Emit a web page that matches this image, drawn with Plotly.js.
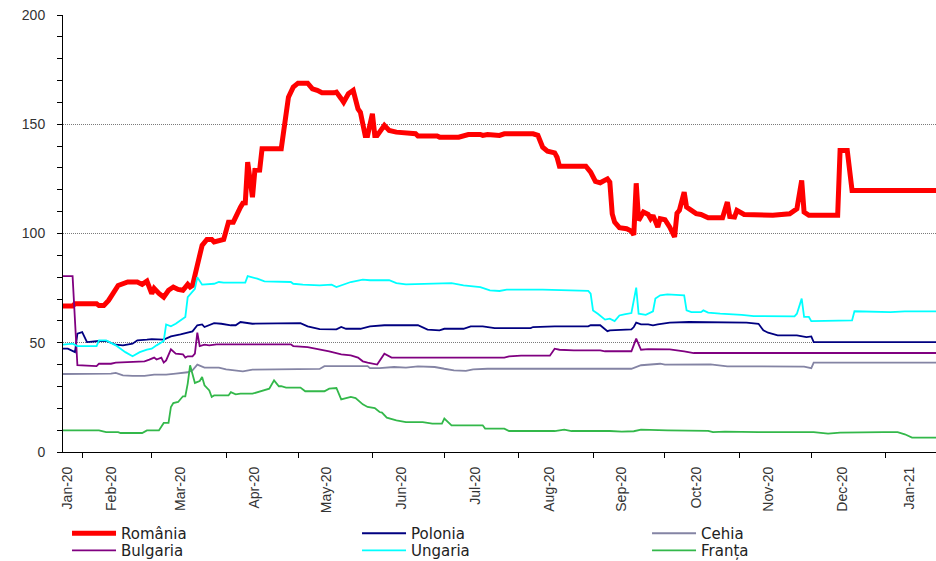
<!DOCTYPE html>
<html>
<head>
<meta charset="utf-8">
<script src="https://cdn.plot.ly/plotly-3.0.1.min.js"></script>
<style>html,body{margin:0;padding:0;background:#fff;}#chart{width:936px;height:561px;}</style>
</head>
<body>
<div id="chart"></div>
<script>
// ---- Data ----
const seriesNames = ['România', 'Polonia', 'Cehia', 'Bulgaria', 'Ungaria', 'Franța'];

const romaniaDates = ['2020-01-24','2020-01-28','2020-01-29','2020-02-07','2020-02-08','2020-02-10','2020-02-12','2020-02-16','2020-02-20','2020-02-24','2020-02-26','2020-02-28','2020-03-01','2020-03-02','2020-03-04','2020-03-06','2020-03-08','2020-03-10','2020-03-12','2020-03-14','2020-03-16','2020-03-17','2020-03-18','2020-03-20','2020-03-22','2020-03-24','2020-03-26','2020-03-27','2020-03-31','2020-04-02','2020-04-04','2020-04-07','2020-04-08','2020-04-09','2020-04-10','2020-04-12','2020-04-13','2020-04-15','2020-04-16','2020-04-24','2020-04-25','2020-04-27','2020-04-29','2020-05-01','2020-05-05','2020-05-07','2020-05-09','2020-05-11','2020-05-16','2020-05-17','2020-05-19','2020-05-20','2020-05-22','2020-05-24','2020-05-26','2020-05-27','2020-05-29','2020-05-30','2020-06-01','2020-06-02','2020-06-03','2020-06-06','2020-06-08','2020-06-11','2020-06-19','2020-06-20','2020-06-28','2020-06-29','2020-07-07','2020-07-11','2020-07-16','2020-07-17','2020-07-19','2020-07-24','2020-07-26','2020-08-07','2020-08-09','2020-08-11','2020-08-13','2020-08-16','2020-08-17','2020-08-18','2020-08-29','2020-08-31','2020-09-02','2020-09-04','2020-09-07','2020-09-08','2020-09-09','2020-09-10','2020-09-12','2020-09-15','2020-09-17','2020-09-18','2020-09-19','2020-09-20','2020-09-22','2020-09-24','2020-09-25','2020-09-26','2020-09-28','2020-09-29','2020-10-01','2020-10-03','2020-10-05','2020-10-06','2020-10-07','2020-10-09','2020-10-10','2020-10-12','2020-10-14','2020-10-16','2020-10-19','2020-10-25','2020-10-27','2020-10-28','2020-10-30','2020-10-31','2020-11-03','2020-11-15','2020-11-19','2020-11-22','2020-11-25','2020-11-27','2020-11-28','2020-11-30','2020-12-12','2020-12-13','2020-12-16','2020-12-18','2021-01-22'];
const romaniaValues = [66.8,66.8,67.9,67.9,67.0,67.0,69.4,76.2,77.8,77.8,76.7,78.2,72.5,74.9,72.6,70.9,74.0,75.5,74.4,74.0,76.7,75.5,76.2,84.6,94.6,97.3,97.3,96.1,97.3,105.2,105.2,112.0,113.9,114.0,132.7,116.6,128.9,129.0,138.8,138.8,145.7,162.4,167.0,168.8,168.8,166.2,165.5,164.4,164.4,164.7,161.7,160.1,164.0,165.5,157.0,155.5,144.9,144.9,154.8,144.9,144.9,149.5,147.2,146.4,145.7,144.6,144.6,144.1,144.1,145.3,145.3,144.9,145.3,144.9,145.6,145.6,144.9,139.5,137.7,136.9,134.9,130.8,130.8,128.1,123.8,123.2,125.0,123.5,109.0,105.2,102.7,102.2,101.1,99.4,123.0,106.0,109.8,108.7,106.8,108.3,102.9,106.8,106.3,102.9,98.4,109.3,110.6,118.9,112.1,110.9,109.1,108.7,107.2,107.2,114.4,107.8,107.5,110.6,108.7,108.3,108.7,109.0,111.3,124.3,109.8,108.3,108.3,138.0,138.0,119.7,119.7];

const poloniaDates = ['2020-01-24','2020-01-26','2020-01-29','2020-01-30','2020-02-01','2020-02-03','2020-02-08','2020-02-11','2020-02-15','2020-02-18','2020-02-22','2020-02-24','2020-02-28','2020-03-01','2020-03-06','2020-03-09','2020-03-13','2020-03-17','2020-03-18','2020-03-20','2020-03-22','2020-03-23','2020-03-27','2020-03-30','2020-04-03','2020-04-05','2020-04-07','2020-04-12','2020-04-18','2020-04-25','2020-05-02','2020-05-05','2020-05-10','2020-05-17','2020-05-19','2020-05-21','2020-05-27','2020-05-31','2020-06-06','2020-06-20','2020-06-24','2020-06-29','2020-07-01','2020-07-09','2020-07-12','2020-07-17','2020-07-22','2020-08-06','2020-08-07','2020-08-16','2020-08-30','2020-08-31','2020-09-04','2020-09-07','2020-09-08','2020-09-17','2020-09-18','2020-09-19','2020-09-21','2020-09-24','2020-09-26','2020-09-28','2020-09-30','2020-10-03','2020-10-11','2020-11-04','2020-11-09','2020-11-11','2020-11-13','2020-11-17','2020-11-25','2020-11-27','2020-11-29','2020-12-01','2020-12-02','2021-01-22'];
const poloniaValues = [47.3,47.3,45.7,54.2,54.9,50.3,50.8,50.8,49.1,48.8,49.6,51.1,51.4,51.7,51.4,52.9,53.8,55.2,55.2,58.0,58.4,57.2,59.0,58.7,58.0,58.0,59.5,58.7,58.7,59.0,59.0,57.5,56.2,56.1,57.2,56.4,56.4,57.5,58.0,58.0,56.0,55.7,56.4,56.4,57.5,57.5,56.7,56.7,57.2,57.5,57.5,58.0,58.0,55.3,55.7,56.1,57.2,59.2,58.4,58.4,58.0,58.4,58.7,59.2,59.5,59.2,58.7,55.7,54.6,53.4,53.4,52.9,52.6,52.9,50.3,50.3];

const cehiaDates = ['2020-01-24','2020-02-08','2020-02-13','2020-02-15','2020-02-18','2020-02-22','2020-02-27','2020-03-02','2020-03-07','2020-03-11','2020-03-16','2020-03-18','2020-03-20','2020-03-23','2020-03-27','2020-03-29','2020-04-01','2020-04-08','2020-04-12','2020-04-18','2020-05-10','2020-05-12','2020-05-30','2020-05-31','2020-06-04','2020-06-10','2020-06-15','2020-06-20','2020-06-27','2020-07-01','2020-07-05','2020-07-10','2020-07-13','2020-07-19','2020-08-31','2020-09-13','2020-09-17','2020-09-21','2020-09-26','2020-09-29','2020-10-01','2020-10-20','2020-10-27','2020-11-24','2020-11-27','2020-11-28','2020-12-01','2020-12-02','2021-01-22'];
const cehiaValues = [35.7,35.7,35.9,36.2,35.1,34.8,34.8,35.4,35.4,35.9,36.5,37.4,40.0,38.6,38.4,38.6,37.8,36.9,37.7,37.8,38.0,39.3,39.3,38.4,38.4,38.9,38.6,39.2,38.9,38.1,37.4,37.1,37.8,38.1,37.9,38.1,38.1,39.7,40.0,40.4,40.0,40.1,39.2,39.2,38.9,39.1,38.4,40.9,40.9];

const bulgariaDates = ['2020-01-24','2020-01-28','2020-01-30','2020-02-07','2020-02-08','2020-02-13','2020-02-15','2020-02-22','2020-02-27','2020-02-29','2020-03-02','2020-03-03','2020-03-05','2020-03-06','2020-03-07','2020-03-09','2020-03-11','2020-03-14','2020-03-15','2020-03-16','2020-03-18','2020-03-19','2020-03-20','2020-03-21','2020-03-23','2020-03-25','2020-03-28','2020-04-28','2020-04-29','2020-05-05','2020-05-10','2020-05-14','2020-05-19','2020-05-23','2020-05-26','2020-05-28','2020-05-30','2020-06-02','2020-06-03','2020-06-06','2020-06-08','2020-06-09','2020-07-26','2020-07-28','2020-08-02','2020-08-14','2020-08-16','2020-08-18','2020-08-24','2020-09-04','2020-09-06','2020-09-13','2020-09-17','2020-09-19','2020-09-21','2020-09-24','2020-10-03','2020-10-09','2020-10-13','2021-01-22'];
const bulgariaValues = [80.5,80.5,39.7,39.3,40.4,40.4,40.9,41.2,41.5,42.3,43.2,42.3,43.2,40.9,41.9,47.0,45.0,44.7,43.2,43.8,43.8,45.0,54.6,48.5,49.1,48.8,49.3,49.3,48.5,48.0,47.0,46.1,44.7,44.2,43.2,41.5,40.9,40.4,40.0,45.0,43.8,43.2,43.2,43.8,44.1,44.1,47.3,46.8,46.5,46.5,46.1,46.3,46.1,51.9,46.8,47.1,47.0,46.1,45.3,45.3];

const ungariaDates = ['2020-01-24','2020-01-28','2020-01-30','2020-02-07','2020-02-08','2020-02-11','2020-02-15','2020-02-19','2020-02-22','2020-02-25','2020-02-28','2020-03-01','2020-03-03','2020-03-06','2020-03-07','2020-03-09','2020-03-11','2020-03-14','2020-03-15','2020-03-16','2020-03-18','2020-03-19','2020-03-20','2020-03-22','2020-03-27','2020-03-29','2020-03-31','2020-04-09','2020-04-10','2020-04-12','2020-04-14','2020-04-17','2020-04-24','2020-04-28','2020-04-29','2020-05-03','2020-05-10','2020-05-15','2020-05-17','2020-05-23','2020-05-28','2020-05-31','2020-06-08','2020-06-11','2020-06-15','2020-07-01','2020-07-04','2020-07-09','2020-07-16','2020-07-20','2020-07-24','2020-07-27','2020-08-11','2020-08-30','2020-08-31','2020-09-01','2020-09-03','2020-09-06','2020-09-08','2020-09-10','2020-09-12','2020-09-14','2020-09-17','2020-09-19','2020-09-20','2020-09-23','2020-09-26','2020-09-27','2020-09-29','2020-10-02','2020-10-09','2020-10-10','2020-10-12','2020-10-16','2020-10-17','2020-10-19','2020-10-24','2020-11-02','2020-11-07','2020-11-24','2020-11-25','2020-11-27','2020-11-28','2020-11-30','2020-12-01','2020-12-18','2020-12-19','2021-01-03','2021-01-09','2021-01-22'];
const ungariaValues = [49.1,49.6,48.5,48.5,51.1,51.1,48.8,45.7,43.8,45.7,46.8,47.3,48.8,50.8,58.4,57.5,58.7,61.0,61.8,70.9,73.2,74.7,80.0,76.6,77.0,77.8,77.5,77.5,80.5,80.0,79.3,78.1,77.8,77.8,77.0,76.6,76.3,76.6,75.5,77.8,78.9,78.6,78.6,77.3,76.7,77.0,77.3,76.3,75.5,74.0,73.7,74.3,74.3,73.7,72.5,64.8,63.3,60.6,61.0,59.9,62.5,63.0,63.6,75.2,63.3,62.8,64.4,70.2,71.7,72.1,71.7,64.8,64.0,64.0,64.8,63.8,63.3,62.8,62.2,62.1,63.3,70.2,61.8,61.8,59.9,60.2,64.4,64.0,64.4,64.4];

const frantaDates = ['2020-01-24','2020-02-08','2020-02-11','2020-02-16','2020-02-17','2020-02-26','2020-02-28','2020-03-04','2020-03-06','2020-03-08','2020-03-09','2020-03-10','2020-03-12','2020-03-14','2020-03-15','2020-03-16','2020-03-17','2020-03-19','2020-03-21','2020-03-22','2020-03-23','2020-03-25','2020-03-26','2020-03-27','2020-04-02','2020-04-03','2020-04-05','2020-04-07','2020-04-12','2020-04-14','2020-04-17','2020-04-19','2020-04-21','2020-04-23','2020-04-24','2020-04-26','2020-05-02','2020-05-04','2020-05-12','2020-05-14','2020-05-17','2020-05-19','2020-05-23','2020-05-25','2020-05-28','2020-05-30','2020-06-02','2020-06-04','2020-06-05','2020-06-07','2020-06-11','2020-06-15','2020-06-22','2020-06-26','2020-06-30','2020-07-01','2020-07-04','2020-07-17','2020-07-18','2020-07-26','2020-07-28','2020-08-16','2020-08-20','2020-08-23','2020-09-08','2020-09-13','2020-09-18','2020-09-21','2020-10-02','2020-10-15','2020-10-19','2020-10-21','2020-10-26','2020-11-09','2020-12-02','2020-12-08','2020-12-13','2020-12-31','2021-01-06','2021-01-09','2021-01-12','2021-01-22'];
const frantaValues = [9.9,9.9,9.1,9.1,8.7,8.7,9.9,9.9,13.3,13.3,20.6,22.4,22.9,25.5,25.5,31.3,39.7,31.6,32.5,34.3,30.5,28.2,25.2,25.9,25.9,27.4,26.4,26.7,26.7,27.4,28.5,29.0,32.8,30.1,30.1,29.5,29.5,27.8,27.8,29.0,29.3,24.1,25.2,24.7,21.8,20.6,20.1,18.3,18.0,15.7,14.5,13.7,13.7,13.0,13.0,15.3,12.2,12.2,10.7,10.7,9.6,9.6,10.2,9.6,9.6,9.3,9.5,10.2,9.9,9.5,9.7,9.1,9.3,9.1,9.1,8.4,8.9,9.1,9.1,8.1,6.6,6.6];

// axis tick labels (category labels shown by the original axis) and month boundaries
const tickLabelDates = ['2020-01-26','2020-02-13','2020-03-13','2020-04-13','2020-05-13','2020-06-13','2020-07-14','2020-08-14','2020-09-13','2020-10-14','2020-11-13','2020-12-14','2021-01-11'];
const tickLabels = ['Jan-20','Feb-20','Mar-20','Apr-20','May-20','Jun-20','Jul-20','Aug-20','Sep-20','Oct-20','Nov-20','Dec-20','Jan-21'];
const monthStarts = ['2020-02-01','2020-03-01','2020-04-01','2020-05-01','2020-06-01','2020-07-01','2020-08-01','2020-09-01','2020-10-01','2020-11-01','2020-12-01','2021-01-01'];
const xRange = ['2020-01-24','2021-01-22'];
const yTicks = [0, 50, 100, 150, 200];

// ---- Styling ----
const colors = ['#ff0000', '#000080', '#8484a4', '#800080', '#00ffff', '#33b84a'];
const widths = [5, 1.8, 1.8, 1.8, 1.8, 1.8];
const xs = [romaniaDates, poloniaDates, cehiaDates, bulgariaDates, ungariaDates, frantaDates];
const ys = [romaniaValues, poloniaValues, cehiaValues, bulgariaValues, ungariaValues, frantaValues];
const legendIds = ['legend', 'legend2', 'legend3', 'legend4', 'legend5', 'legend6'];

const traces = seriesNames.map((name, i) => ({
  type: 'scatter', mode: 'lines', name: name,
  x: xs[i], y: ys[i],
  line: {color: colors[i], width: widths[i]},
  legend: legendIds[i],
  hoverinfo: 'skip'
}));

const legFont = {family: 'DejaVu Sans, sans-serif', size: 15, color: '#222'};
function leg(x, y) {
  return {x: x, y: y, xanchor: 'left', yanchor: 'middle', orientation: 'v',
          bgcolor: 'rgba(0,0,0,0)', borderwidth: 0, font: legFont, itemwidth: 44};
}
const colX = [0.0046, 0.3368, 0.669];
const rowY = [-0.1865, -0.2255];

const layout = {
  width: 936, height: 561,
  margin: {l: 63, r: 0, t: 15, b: 109, autoexpand: false},
  paper_bgcolor: '#ffffff', plot_bgcolor: '#ffffff',
  showlegend: true,
  xaxis: {
    type: 'date', range: xRange, automargin: false,
    tickmode: 'array', tickvals: tickLabelDates, ticktext: tickLabels,
    ticks: '', tickangle: -90, ticklabelstandoff: 8,
    tickfont: {family: 'Liberation Sans, Arial, sans-serif', size: 14, color: '#333'},
    minor: {tickmode: 'array', tickvals: monthStarts, ticks: 'outside', ticklen: 5, tickcolor: '#000', tickwidth: 1, showgrid: false},
    showline: true, linecolor: '#000', linewidth: 1,
    showgrid: false, zeroline: false, fixedrange: true
  },
  yaxis: {
    range: [0, 200], tickmode: 'array', tickvals: yTicks, automargin: false,
    ticks: 'outside', ticklen: 5, tickcolor: '#000', tickwidth: 1,
    ticklabelstandoff: 9,
    minor: {dtick: 10, ticks: 'outside', ticklen: 5, tickcolor: '#000', tickwidth: 1, showgrid: false},
    tickfont: {family: 'Liberation Sans, Arial, sans-serif', size: 14, color: '#333'},
    showline: true, linecolor: '#000', linewidth: 1,
    showgrid: true, gridcolor: '#7a7a7a', gridwidth: 1, griddash: '1px,1px',
    zeroline: false, fixedrange: true
  },
  legend: leg(colX[0], rowY[0]),
  legend2: leg(colX[1], rowY[0]),
  legend3: leg(colX[2], rowY[0]),
  legend4: leg(colX[0], rowY[1]),
  legend5: leg(colX[1], rowY[1]),
  legend6: leg(colX[2], rowY[1])
};

Plotly.newPlot('chart', traces, layout, {displayModeBar: false, staticPlot: true});
</script>
</body>
</html>
